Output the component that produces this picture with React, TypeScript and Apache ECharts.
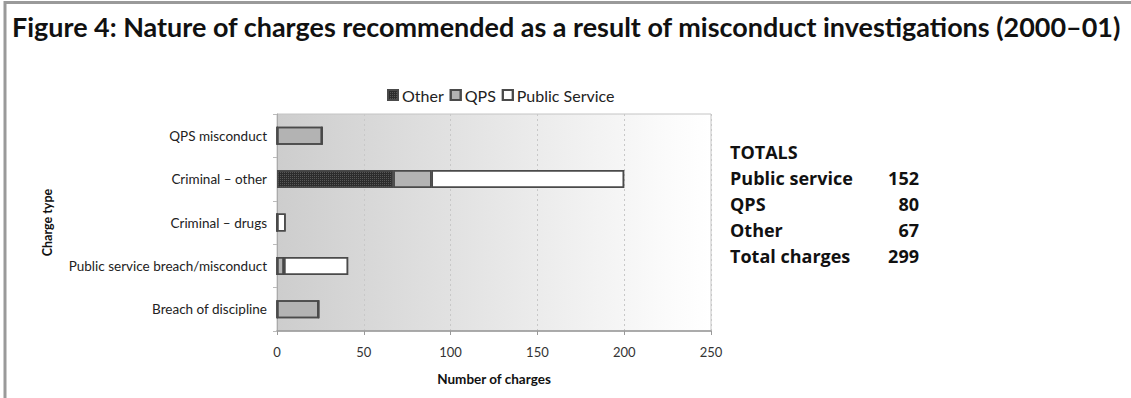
import React, { useEffect, useRef } from "react";
import * as echarts from "echarts";

// Charge types, listed top to bottom as they appear on the chart
const categories = [
  "QPS misconduct",
  "Criminal – other",
  "Criminal – drugs",
  "Public service breach/misconduct",
  "Breach of discipline",
];

// Number of charges per charge type, by sector
const otherCharges = [0, 67, 0, 0, 0];
const qpsCharges = [26, 22, 0, 4, 24];
const publicServiceCharges = [0, 111, 5, 37, 0];

const xTicks = { min: 0, max: 250, interval: 50 };

// Totals panel on the right
const totalLabels = ["Public service", "QPS", "Other", "Total charges"];
const totalValues = [152, 80, 67, 299];

const TITLE =
  "Figure 4: Nature of charges recommended as a result of misconduct investigations (2000–01)";

const BODY_FONT = "Lato, 'Open Sans', sans-serif";
const TOTALS_FONT = "'Open Sans', Lato, sans-serif";

function measure(text: string, font: string): number {
  const ctx = document.createElement("canvas").getContext("2d");
  if (!ctx) return 0;
  ctx.font = font;
  return ctx.measureText(text).width;
}

export default function App() {
  const ref = useRef<HTMLDivElement>(null);

  useEffect(() => {
    document.body.style.margin = "0";
    if (!ref.current) return;
    const chart = echarts.init(ref.current, undefined, { renderer: "svg" });

    // Title is set in a condensed style: scale the bold face to span the frame
    const titleFont = `bold 26px Lato`;
    const titleWidth = measure(TITLE, titleFont) || 1110;
    const titleScale = 1110 / titleWidth;

    const barBorder = { borderColor: "#4a4a4a", borderWidth: 1.5 };
    const noDecal = { color: "rgba(0,0,0,0)" };

    const rowY = [152, 177.5, 203.5, 229.5, 255.5];
    const totalsGraphics: any[] = [
      {
        type: "text",
        x: 730,
        y: rowY[0],
        style: {
          text: "TOTALS",
          font: `bold 18px ${TOTALS_FONT}`,
          fill: "#111",
          verticalAlign: "middle",
        },
      },
    ];
    totalLabels.forEach((label, i) => {
      const y = rowY[i + 1];
      totalsGraphics.push({
        type: "text",
        x: 730,
        y,
        style: {
          text: label,
          font: `bold 18px ${TOTALS_FONT}`,
          fill: "#111",
          verticalAlign: "middle",
        },
      });
      totalsGraphics.push({
        type: "text",
        x: 919,
        y,
        style: {
          text: String(totalValues[i]),
          font: `bold 18px ${TOTALS_FONT}`,
          fill: "#111",
          align: "right",
          verticalAlign: "middle",
        },
      });
    });

    chart.setOption({
      animation: false,
      backgroundColor: "#ffffff",
      textStyle: { fontFamily: BODY_FONT },
      aria: { enabled: true, label: { enabled: false }, decal: { show: true } },
      graphic: [
        // frame lines
        {
          type: "line",
          shape: { x1: 4, y1: 2.5, x2: 1131, y2: 2.5 },
          style: { stroke: "#9a9a9a", lineWidth: 3 },
        },
        {
          type: "line",
          shape: { x1: 5, y1: 1, x2: 5, y2: 398 },
          style: { stroke: "#9a9a9a", lineWidth: 3 },
        },
        {
          type: "text",
          x: 12,
          y: 27,
          scaleX: titleScale,
          style: {
            text: TITLE,
            font: titleFont,
            fill: "#111",
            verticalAlign: "middle",
          },
        },
        ...totalsGraphics,
      ],
      legend: {
        top: 82,
        left: 382,
        itemWidth: 10,
        itemHeight: 10,
        itemGap: 6,
        icon: "rect",
        textStyle: {
          fontSize: 16,
          color: "#222",
          fontFamily: BODY_FONT,
          padding: [0, 0, 0, -1],
        },
        data: ["Other", "QPS", "Public Service"],
      },
      grid: {
        left: 277,
        top: 114,
        width: 434,
        height: 217,
        show: true,
        borderColor: "#c4c4c4",
        borderWidth: 1,
        backgroundColor: new echarts.graphic.LinearGradient(0, 0, 1, 0, [
          { offset: 0, color: "#cdcdcd" },
          { offset: 0.9, color: "#fbfbfb" },
          { offset: 1, color: "#ffffff" },
        ]),
      },
      xAxis: {
        type: "value",
        min: xTicks.min,
        max: xTicks.max,
        interval: xTicks.interval,
        name: "Number of charges",
        nameLocation: "middle",
        nameGap: 41,
        nameTextStyle: {
          fontWeight: "bold",
          fontSize: 13.5,
          color: "#111",
          fontFamily: BODY_FONT,
        },
        axisLine: { show: true, lineStyle: { color: "#999", width: 1.5 } },
        axisTick: { show: true, length: 4, lineStyle: { color: "#999" } },
        axisLabel: { fontSize: 13, color: "#333", margin: 14, fontFamily: BODY_FONT },
        splitLine: { show: true, lineStyle: { color: "#c8c8c8", type: [2, 3] } },
      },
      yAxis: {
        type: "category",
        inverse: true,
        data: categories,
        name: "Charge type",
        nameLocation: "middle",
        nameGap: 223,
        nameRotate: 90,
        nameTextStyle: {
          fontWeight: "bold",
          fontSize: 12.5,
          color: "#111",
          fontFamily: BODY_FONT,
        },
        axisLine: { show: true, lineStyle: { color: "#aaa", width: 1 } },
        axisTick: { show: true, length: 4, lineStyle: { color: "#bbb" } },
        axisLabel: { fontSize: 13.5, color: "#222", margin: 10, fontFamily: BODY_FONT },
      },
      series: [
        {
          name: "Other",
          type: "bar",
          stack: "charges",
          barWidth: 18,
          data: otherCharges,
          itemStyle: {
            color: "#2c2c2c",
            ...barBorder,
            decal: {
              symbol: "rect",
              symbolSize: 1,
              dashArrayX: [1, 1],
              dashArrayY: [1, 1],
              rotation: 0,
              color: "rgba(105,105,105,0.7)",
            },
          },
        },
        {
          name: "QPS",
          type: "bar",
          stack: "charges",
          barWidth: 18,
          data: qpsCharges,
          itemStyle: { color: "#b3b3b3", ...barBorder, decal: noDecal },
        },
        {
          name: "Public Service",
          type: "bar",
          stack: "charges",
          barWidth: 18,
          data: publicServiceCharges,
          itemStyle: { color: "#ffffff", ...barBorder, decal: noDecal },
        },
      ],
    });

    return () => chart.dispose();
  }, []);

  return <div ref={ref} style={{ width: 1131, height: 398 }} />;
}
